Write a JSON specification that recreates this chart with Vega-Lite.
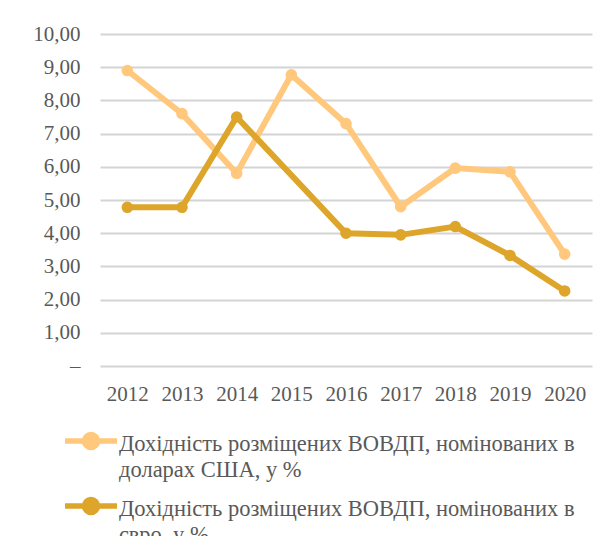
{
  "$schema": "https://vega.github.io/schema/vega-lite/v6.json",
  "width": 492,
  "height": 332,
  "autosize": {"type": "none"},
  "padding": {"left": 100, "top": 34, "right": 19, "bottom": 170},
  "background": "white",
  "config": {
    "view": {"stroke": null},
    "font": "Liberation Serif"
  },
  "data": {
    "values": [
      {"year": "2012", "series": "Дохідність розміщених ВОВДП, номінованих в доларах США, у %", "value": 8.9},
      {"year": "2013", "series": "Дохідність розміщених ВОВДП, номінованих в доларах США, у %", "value": 7.6},
      {"year": "2014", "series": "Дохідність розміщених ВОВДП, номінованих в доларах США, у %", "value": 5.80},
      {"year": "2015", "series": "Дохідність розміщених ВОВДП, номінованих в доларах США, у %", "value": 8.77},
      {"year": "2016", "series": "Дохідність розміщених ВОВДП, номінованих в доларах США, у %", "value": 7.30},
      {"year": "2017", "series": "Дохідність розміщених ВОВДП, номінованих в доларах США, у %", "value": 4.80},
      {"year": "2018", "series": "Дохідність розміщених ВОВДП, номінованих в доларах США, у %", "value": 5.96},
      {"year": "2019", "series": "Дохідність розміщених ВОВДП, номінованих в доларах США, у %", "value": 5.85},
      {"year": "2020", "series": "Дохідність розміщених ВОВДП, номінованих в доларах США, у %", "value": 3.37},
      {"year": "2012", "series": "Дохідність розміщених ВОВДП, номінованих в євро, у %", "value": 4.78},
      {"year": "2013", "series": "Дохідність розміщених ВОВДП, номінованих в євро, у %", "value": 4.78},
      {"year": "2014", "series": "Дохідність розміщених ВОВДП, номінованих в євро, у %", "value": 7.5},
      {"year": "2016", "series": "Дохідність розміщених ВОВДП, номінованих в євро, у %", "value": 4.00},
      {"year": "2017", "series": "Дохідність розміщених ВОВДП, номінованих в євро, у %", "value": 3.95},
      {"year": "2018", "series": "Дохідність розміщених ВОВДП, номінованих в євро, у %", "value": 4.20},
      {"year": "2019", "series": "Дохідність розміщених ВОВДП, номінованих в євро, у %", "value": 3.33},
      {"year": "2020", "series": "Дохідність розміщених ВОВДП, номінованих в євро, у %", "value": 2.26}
    ]
  },
  "encoding": {
    "x": {
      "field": "year", "type": "ordinal",
      "scale": {"paddingInner": 0, "paddingOuter": 0},
      "axis": {
        "title": null, "labelAngle": 0, "ticks": false, "domain": false,
        "labelFont": "Liberation Serif", "labelFontSize": 21, "labelColor": "#595959",
        "labelPadding": 17
      }
    },
    "y": {
      "field": "value", "type": "quantitative",
      "scale": {"domain": [0, 10], "nice": false},
      "axis": {
        "title": null, "values": [0,1,2,3,4,5,6,7,8,9,10],
        "labelOverlap": false,
        "ticks": false, "domain": false,
        "grid": true, "gridColor": "#d4d4d4", "gridWidth": 2,
        "labelFont": "Liberation Serif", "labelFontSize": 21, "labelColor": "#595959",
        "labelPadding": 20,
        "labelExpr": "datum.value == 0 ? '–' : replace(format(datum.value, '.2f'), '.', ',')"
      }
    },
    "color": {
      "field": "series", "type": "nominal",
      "scale": {
        "domain": ["Дохідність розміщених ВОВДП, номінованих в доларах США, у %", "Дохідність розміщених ВОВДП, номінованих в євро, у %"],
        "range": ["#FFC87C", "#DDA52A"]
      },
      "legend": {
        "title": null,
        "orient": "none",
        "legendX": -33,
        "legendY": 383,
        "direction": "vertical",
        "symbolType": "M-1.238,0H1.238M-0.31,0A0.31,0.31 0 1,1 0.31,0A0.31,0.31 0 1,1 -0.31,0",
        "symbolSize": 1764,
        "symbolStrokeWidth": 5.5,
        "labelFont": "Liberation Serif",
        "labelFontSize": 22.5,
        "labelColor": "#595959",
        "labelLimit": 600,
        "labelOffset": 4,
        "labelBaseline": "top",
        "rowPadding": 0,
        "labelExpr": "[substring(datum.label, 0, 42), substring(datum.label, 43)]",
        "encode": {
          "symbols": {"update": {"fill": {"scale": "color", "field": "value"}, "stroke": {"scale": "color", "field": "value"}, "fillOpacity": {"value": 1}, "opacity": {"value": 1}}},
          "labels": {"update": {"lineHeight": {"value": 26}, "dy": {"value": -8}}}
        }
      }
    }
  },
  "layer": [
    {"mark": {"type": "line", "strokeWidth": 6}},
    {"mark": {"type": "point", "filled": true, "size": 135, "opacity": 1}}
  ]
}
